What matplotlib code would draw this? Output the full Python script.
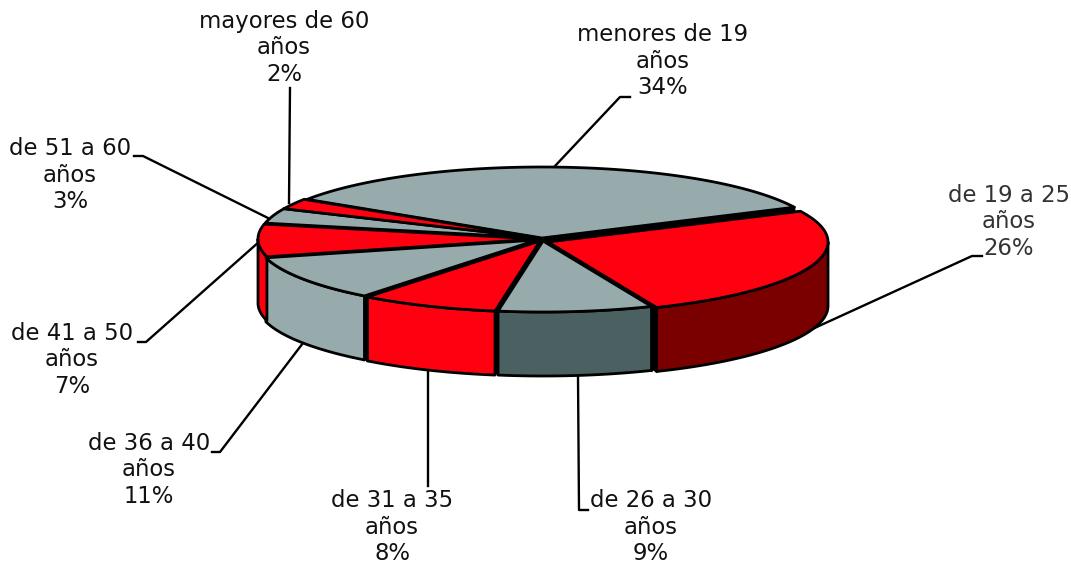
import numpy as np
import matplotlib
matplotlib.use("Agg")
import matplotlib.pyplot as plt

labels = ["menores de 19", "de 19 a 25", "de 26 a 30", "de 31 a 35",
          "de 36 a 40", "de 41 a 50", "de 51 a 60", "mayores de 60"]
values = [33.7, 25.8, 8.9, 8.0, 10.4, 7.4, 3.4, 2.4]
shown = [34, 26, 9, 8, 11, 7, 3, 2]

# styles
GRAY = "#97abad"
RED = "#ff0010"
top_colors = [GRAY, RED, GRAY, RED, GRAY, RED, GRAY, RED]
side_colors = [GRAY, "#7a0000", "#4a6061", RED, GRAY, RED, GRAY, RED]
offsets = [(1, -1), (7, 3), (2, 2), (-1, 2), (-4, 1), (-3, 0), (-2, -1), (-2, -1)]
text_colors = ["#111111", "#333333", "#111111", "#111111", "#111111", "#111111", "#111111", "#111111"]

# layout, in pixels
label_pos = [(663, 61), (1009, 222), (651, 527), (392, 527),
             (149, 470), (72, 360), (70, 175), (284, 48)]
leaders = [[(555, 166), (620, 97), (630, 97)],
           [(808, 331), (972, 256), (982, 256)],
           [(578, 377), (579, 510), (588, 510)],
           [(428, 372), (428, 486)],
           [(303, 343), (220, 452), (212, 452)],
           [(260, 241), (146, 342), (138, 342)],
           [(268, 218), (143, 156), (134, 156)],
           [(289, 203), (290, 88)]]
CX, CY, RX, RY, DEPTH = 541, 239, 280, 71, 64
START = 147


def rim(a0, a1, dx, dy, drop=0):
    t = np.radians(np.linspace(a0, a1, 80))
    return CX + dx + RX * np.cos(t), CY + dy + drop - RY * np.sin(t)


fig = plt.figure(figsize=(10.71, 5.64), dpi=100)
ax = fig.add_axes([0, 0, 1, 1])
ax.set_xlim(0, 1071)
ax.set_ylim(564, 0)
ax.axis("off")

for pts in leaders:
    ax.plot(*zip(*pts), color="black", lw=1.7, zorder=1)

fracs = np.array(values) / sum(values) * 360
ends = START - np.cumsum(fracs)
starts = ends + fracs

# radial walls show as the black gaps between slices
for a0, a1, (dx, dy) in zip(starts, ends, offsets):
    for a in (a0, a1):
        x, y = rim(a, a, dx, dy)
        wx = [CX + dx, x[0], x[0], CX + dx]
        wy = [CY + dy, y[0], y[0] + DEPTH, CY + dy + DEPTH]
        ax.fill(wx, wy, color="black", lw=1.5, zorder=2)

# outer walls, lower half of the ellipse only
for a0, a1, (dx, dy), c in zip(starts, ends, offsets, side_colors):
    lo = a1 % 360
    hi = lo + (a0 - a1)
    lo2, hi2 = max(lo, 180), min(hi, 360)
    if hi2 <= lo2:
        lo2, hi2 = max(lo - 360, 180), min(hi - 360, 360)
    if hi2 <= lo2:
        continue
    x1, y1 = rim(lo2, hi2, dx, dy)
    x2, y2 = rim(hi2, lo2, dx, dy, DEPTH)
    ax.fill(np.r_[x1, x2], np.r_[y1, y2], facecolor=c, edgecolor="black",
            lw=2, joinstyle="round", zorder=3)

# tops
for a0, a1, (dx, dy), c in zip(starts, ends, offsets, top_colors):
    x, y = rim(a0, a1, dx, dy)
    ax.fill(np.r_[CX + dx, x], np.r_[CY + dy, y], facecolor=c, edgecolor="black",
            lw=2, joinstyle="round", zorder=4)

for name, v, (x, y), tc in zip(labels, shown, label_pos, text_colors):
    ax.text(x, y, f"{name}\naños\n{v}%", ha="center", va="center", color=tc,
            fontsize=16.4, family="DejaVu Sans", linespacing=1.2, zorder=5)

fig.savefig("out.png", dpi=100)
